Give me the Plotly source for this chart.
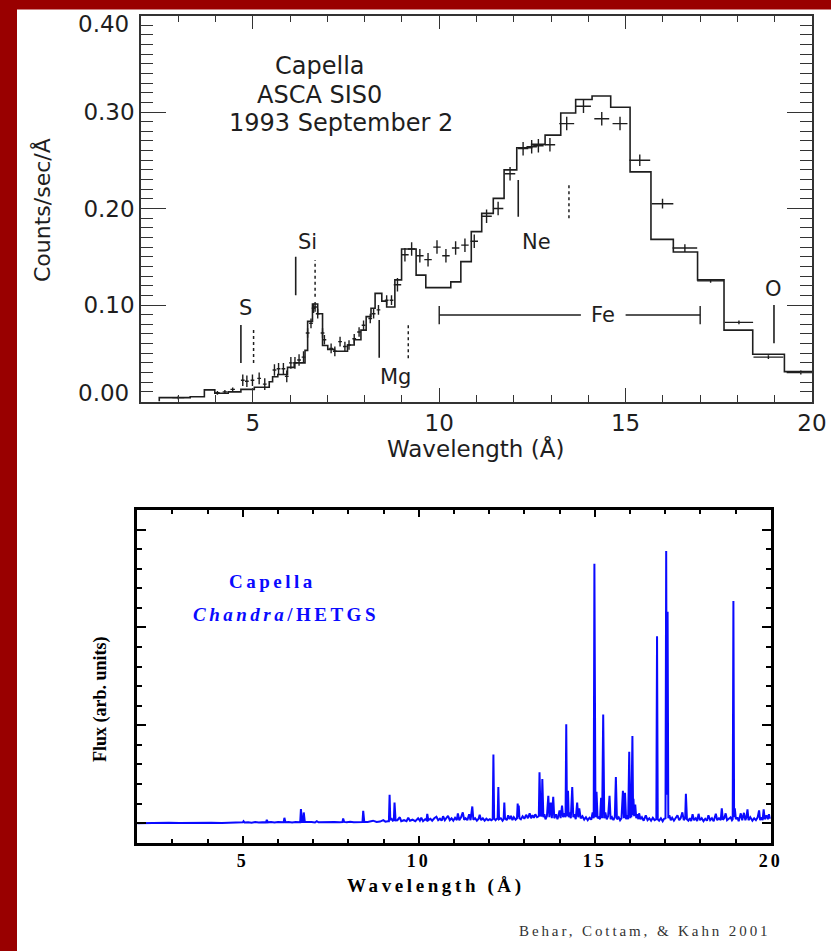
import plotly.graph_objects as go

W, H = 831, 951

# ---------------- Top panel: Capella ASCA SIS0 ----------------
asca_bin_edges = [2.49, 3.32, 3.70, 3.98, 4.34, 4.68, 5.04, 5.44, 5.53, 5.67,
                  5.93, 6.11, 6.40, 6.47, 6.60, 6.74, 6.87, 7.01, 7.19, 7.54,
                  7.72, 7.90, 8.04, 8.17, 8.28, 8.46, 8.59, 8.81, 8.99, 9.38,
                  9.64, 10.31, 10.58, 10.86, 11.14, 11.45, 11.74, 12.08, 12.48, 12.84,
                  13.26, 13.66, 14.10, 14.60, 15.12, 15.68, 16.28, 16.93, 17.64, 18.41,
                  19.26, 20.0]
asca_model = [0.004, 0.005, 0.012, 0.0085, 0.010, 0.0126, 0.0147, 0.0205, 0.0257, 0.028,
              0.0354, 0.040, 0.053, 0.083, 0.101, 0.091, 0.058, 0.054, 0.052, 0.0585,
              0.064, 0.074, 0.088, 0.0966, 0.112, 0.104, 0.098, 0.126, 0.158, 0.131,
              0.118, 0.124, 0.145, 0.176, 0.195, 0.2105, 0.240, 0.263, 0.2665, 0.276,
              0.299, 0.313, 0.3166, 0.305, 0.238, 0.168, 0.155, 0.126, 0.074, 0.049,
              0.031]

asca_wl = [3.0, 4.05, 4.25, 4.46, 4.73, 4.84, 4.99, 5.17, 5.32, 5.58,
           5.69, 5.82, 5.91, 6.02, 6.13, 6.24, 6.36, 6.47, 6.56, 6.63,
           6.67, 6.74, 6.87, 6.92, 7.10, 7.20, 7.34, 7.47, 7.58, 7.72,
           7.85, 7.97, 8.15, 8.24, 8.37, 8.59, 8.72, 8.88, 9.08, 9.26,
           9.48, 9.70, 9.94, 10.18, 10.44, 10.69, 10.94, 11.27, 11.58, 11.90,
           12.25, 12.48, 12.66, 12.97, 13.42, 13.87, 14.36, 14.85, 15.38, 15.99,
           16.59, 17.28, 18.04, 18.83, 19.70]
asca_rate = [0.004, 0.009, 0.010, 0.0126, 0.022, 0.021, 0.022, 0.024, 0.018, 0.0326,
             0.034, 0.034, 0.026, 0.040, 0.040, 0.043, 0.046, 0.071, 0.081, 0.0966,
             0.098, 0.091, 0.071, 0.064, 0.055, 0.052, 0.062, 0.057, 0.0585, 0.065,
             0.072, 0.079, 0.086, 0.091, 0.095, 0.105, 0.105, 0.121, 0.152, 0.158,
             0.151, 0.147, 0.160, 0.151, 0.159, 0.162, 0.166, 0.192, 0.200, 0.236,
             0.262, 0.264, 0.265, 0.266, 0.288, 0.306, 0.293, 0.288, 0.250, 0.205,
             0.159, 0.125, 0.082, 0.046, 0.030]
asca_wl_err = [0.16, 0.06, 0.06, 0.06, 0.05, 0.05, 0.05, 0.05, 0.05, 0.05,
               0.05, 0.05, 0.05, 0.05, 0.05, 0.05, 0.05, 0.05, 0.05, 0.05,
               0.05, 0.05, 0.05, 0.05, 0.05, 0.05, 0.05, 0.05, 0.05, 0.05,
               0.05, 0.05, 0.05, 0.05, 0.05, 0.05, 0.05, 0.10, 0.10, 0.10,
               0.10, 0.10, 0.10, 0.10, 0.10, 0.10, 0.10, 0.14, 0.14, 0.14,
               0.14, 0.14, 0.14, 0.14, 0.20, 0.20, 0.20, 0.20, 0.28, 0.29,
               0.33, 0.36, 0.38, 0.40, 0.38]
asca_rate_err = [0.002, 0.002, 0.002, 0.002, 0.006, 0.006, 0.006, 0.006, 0.006, 0.006,
                 0.006, 0.006, 0.006, 0.006, 0.006, 0.006, 0.006, 0.005, 0.005, 0.005,
                 0.005, 0.005, 0.005, 0.005, 0.005, 0.005, 0.005, 0.005, 0.005, 0.005,
                 0.005, 0.005, 0.005, 0.005, 0.005, 0.005, 0.005, 0.007, 0.007, 0.007,
                 0.007, 0.007, 0.007, 0.007, 0.007, 0.007, 0.007, 0.007, 0.007, 0.007,
                 0.007, 0.007, 0.007, 0.007, 0.007, 0.007, 0.007, 0.007, 0.006, 0.005,
                 0.004, 0.002, 0.002, 0.002, 0.002]
rate_ticks = [0.1, 0.2, 0.3]
rate_tick_text = ["0.10", "0.20", "0.30"]
rate_end_text = ["0.00", "0.40"]

ion_labels = ["S", "Si", "Mg", "Ne", "Fe", "O"]
ion_label_wl = [4.80, 6.47, 8.84, 12.60, 14.39, 18.96]
ion_label_rate = [0.0966, 0.1656, 0.0257, 0.1656, 0.0896, 0.117]
solid_mark_wl = [4.68, 6.15, 8.39, 12.12, 18.98]
solid_mark_lo = [0.040, 0.110, 0.0454, 0.1915, 0.0603]
solid_mark_hi = [0.0793, 0.150, 0.0845, 0.2295, 0.100]
dotted_mark_wl = [5.02, 6.67, 9.17, 13.48]
dotted_mark_lo = [0.040, 0.1086, 0.0448, 0.190]
dotted_mark_hi = [0.076, 0.1466, 0.081, 0.226]
fe_band = [10.0, 17.0]
fe_gap = [13.8, 15.0]
fe_level = 0.0896
fe_cap = [0.080, 0.099]

# ---------------- Bottom panel: Capella Chandra/HETGS ----------------
hetgs = [
    (2.0, 0.0), (2.3, 0.003), (2.6, 0.0), (2.9, 0.004), (3.2, 0.001), (3.5, 0.004),
    (3.8, 0.0), (4.1, 0.005), (4.4, 0.002), (4.7, 0.006), (4.85, 0.004), (5.0, 0.008),
    (5.02, 0.02), (5.05, 0.006), (5.15, 0.01), (5.25, 0.005), (5.35, 0.011), (5.45, 0.006),
    (5.55, 0.01), (5.66, 0.008), (5.68, 0.034), (5.71, 0.008), (5.8, 0.012), (5.9, 0.006),
    (6.0, 0.012), (6.1, 0.009), (6.16, 0.01), (6.18, 0.054), (6.21, 0.01), (6.3, 0.012),
    (6.4, 0.007), (6.5, 0.012), (6.6, 0.01), (6.63, 0.01), (6.65, 0.143), (6.68, 0.012),
    (6.71, 0.012), (6.73, 0.109), (6.76, 0.012), (6.85, 0.008), (6.95, 0.011), (7.05, 0.007),
    (7.1, 0.02), (7.15, 0.008), (7.3, 0.011), (7.45, 0.007), (7.6, 0.012), (7.75, 0.008),
    (7.83, 0.01), (7.85, 0.048), (7.88, 0.012), (7.95, 0.008), (8.05, 0.013), (8.15, 0.008),
    (8.25, 0.012), (8.35, 0.009), (8.40, 0.012), (8.42, 0.126), (8.45, 0.014), (8.55, 0.012),
    (8.7, 0.025), (8.8, 0.012), (8.9, 0.016), (8.99, 0.03), (9.05, 0.015), (9.12, 0.02),
    (9.15, 0.02), (9.17, 0.29), (9.19, 0.03), (9.22, 0.05), (9.26, 0.025), (9.29, 0.03),
    (9.31, 0.21), (9.34, 0.028), (9.39, 0.03), (9.46, 0.06), (9.5, 0.02), (9.58, 0.03),
    (9.65, 0.02), (9.7, 0.055), (9.75, 0.025), (9.82, 0.035), (9.9, 0.02), (9.98, 0.05),
    (10.03, 0.025), (10.07, 0.055), (10.12, 0.02), (10.18, 0.04), (10.22, 0.03), (10.24, 0.095),
    (10.27, 0.03), (10.33, 0.045), (10.38, 0.025), (10.44, 0.05), (10.5, 0.065), (10.55, 0.03),
    (10.6, 0.045), (10.65, 0.025), (10.69, 0.07), (10.74, 0.03), (10.78, 0.05), (10.83, 0.075),
    (10.88, 0.03), (10.93, 0.05), (10.98, 0.025), (11.03, 0.055), (11.08, 0.03), (11.11, 0.10),
    (11.15, 0.03), (11.2, 0.06), (11.25, 0.11), (11.29, 0.035), (11.33, 0.05), (11.38, 0.03),
    (11.43, 0.09), (11.47, 0.03), (11.52, 0.17), (11.55, 0.035), (11.6, 0.05), (11.65, 0.025),
    (11.7, 0.045), (11.73, 0.085), (11.77, 0.03), (11.82, 0.05), (11.87, 0.025), (11.92, 0.045),
    (11.97, 0.03), (12.02, 0.04), (12.06, 0.03), (12.10, 0.04), (12.12, 0.70), (12.14, 0.05),
    (12.18, 0.03), (12.22, 0.045), (12.24, 0.04), (12.26, 0.37), (12.28, 0.04), (12.33, 0.05),
    (12.38, 0.025), (12.41, 0.04), (12.43, 0.21), (12.45, 0.05), (12.5, 0.03), (12.54, 0.08),
    (12.58, 0.04), (12.62, 0.075), (12.66, 0.03), (12.7, 0.06), (12.75, 0.035), (12.79, 0.05),
    (12.81, 0.20), (12.83, 0.06), (12.84, 0.18), (12.86, 0.05), (12.9, 0.04), (12.95, 0.07),
    (13.0, 0.045), (13.05, 0.085), (13.1, 0.05), (13.15, 0.10), (13.19, 0.05), (13.23, 0.08),
    (13.27, 0.055), (13.31, 0.09), (13.36, 0.06), (13.41, 0.07), (13.43, 0.52), (13.46, 0.08),
    (13.49, 0.07), (13.51, 0.45), (13.54, 0.06), (13.57, 0.09), (13.6, 0.04), (13.64, 0.07),
    (13.68, 0.28), (13.71, 0.06), (13.75, 0.21), (13.78, 0.05), (13.82, 0.27), (13.85, 0.05),
    (13.9, 0.09), (13.94, 0.04), (13.97, 0.08), (14.0, 0.13), (14.03, 0.05), (14.07, 0.18),
    (14.1, 0.06), (14.13, 0.10), (14.17, 0.06), (14.19, 1.01), (14.21, 0.07), (14.24, 0.33),
    (14.26, 0.06), (14.29, 0.11), (14.32, 0.05), (14.36, 0.37), (14.39, 0.06), (14.42, 0.09),
    (14.46, 0.04), (14.50, 0.21), (14.53, 0.06), (14.56, 0.15), (14.6, 0.05), (14.65, 0.07),
    (14.7, 0.035), (14.75, 0.06), (14.8, 0.03), (14.85, 0.055), (14.9, 0.035), (14.94, 0.11),
    (14.97, 0.05), (14.99, 2.65), (15.02, 0.06), (15.05, 0.32), (15.08, 0.05), (15.12, 0.06),
    (15.15, 0.04), (15.18, 0.26), (15.21, 0.05), (15.24, 1.11), (15.27, 0.05), (15.30, 0.11),
    (15.34, 0.04), (15.38, 0.07), (15.42, 0.28), (15.45, 0.04), (15.49, 0.06), (15.53, 0.03),
    (15.57, 0.06), (15.60, 0.47), (15.63, 0.04), (15.68, 0.06), (15.72, 0.03), (15.76, 0.05),
    (15.80, 0.33), (15.83, 0.05), (15.86, 0.31), (15.89, 0.04), (15.92, 0.08), (15.95, 0.04),
    (15.98, 0.73), (16.01, 0.05), (16.02, 0.16), (16.04, 0.06), (16.07, 0.89), (16.09, 0.08),
    (16.10, 0.25), (16.12, 0.07), (16.15, 0.19), (16.18, 0.05), (16.21, 0.09), (16.24, 0.04),
    (16.26, 0.10), (16.3, 0.04), (16.34, 0.06), (16.39, 0.025), (16.45, 0.08), (16.5, 0.03),
    (16.55, 0.05), (16.6, 0.025), (16.65, 0.055), (16.7, 0.03), (16.75, 0.04), (16.77, 1.91),
    (16.79, 0.04), (16.83, 0.025), (16.88, 0.05), (16.93, 0.02), (16.97, 0.045), (17.01, 0.05),
    (17.03, 2.78), (17.05, 0.29), (17.07, 2.16), (17.09, 0.05), (17.12, 0.08), (17.16, 0.03),
    (17.2, 0.055), (17.25, 0.025), (17.3, 0.05), (17.35, 0.08), (17.4, 0.03), (17.44, 0.05),
    (17.49, 0.11), (17.53, 0.03), (17.57, 0.05), (17.59, 0.30), (17.62, 0.04), (17.66, 0.025),
    (17.7, 0.05), (17.74, 0.02), (17.78, 0.09), (17.82, 0.03), (17.87, 0.05), (17.91, 0.02),
    (17.95, 0.095), (17.99, 0.03), (18.04, 0.05), (18.09, 0.02), (18.14, 0.045), (18.19, 0.025),
    (18.23, 0.08), (18.28, 0.03), (18.33, 0.05), (18.38, 0.02), (18.44, 0.095), (18.48, 0.03),
    (18.53, 0.05), (18.58, 0.03), (18.61, 0.15), (18.64, 0.035), (18.68, 0.05), (18.72, 0.10),
    (18.76, 0.03), (18.81, 0.045), (18.86, 0.06), (18.9, 0.03), (18.92, 0.04), (18.94, 2.27),
    (18.96, 0.06), (18.98, 0.15), (19.01, 0.04), (19.05, 0.06), (19.09, 0.02), (19.15, 0.10),
    (19.19, 0.03), (19.24, 0.105), (19.28, 0.03), (19.31, 0.06), (19.34, 0.14), (19.37, 0.03),
    (19.42, 0.06), (19.48, 0.025), (19.53, 0.05), (19.58, 0.03), (19.63, 0.06), (19.67, 0.13),
    (19.7, 0.03), (19.74, 0.06), (19.77, 0.03), (19.80, 0.14), (19.83, 0.04), (19.88, 0.08),
    (19.92, 0.04), (19.95, 0.09), (19.98, 0.05), (20.0, 0.06),
]
hetgs_wl = [p[0] for p in hetgs]
hetgs_flux = [p[1] for p in hetgs]
wave_ticks = [5, 10, 15, 20]


def px(x, y):
    return x / W, 1 - y / H


TOP_FONT = "DejaVu Sans"
BOT_FONT = "Liberation Serif"
INK = "#1e1e1e"
BLUE = "#0a0aff"

fig = go.Figure()

fig.add_trace(go.Scatter(
    x=[asca_bin_edges[0]] + asca_bin_edges,
    y=[0] + asca_model + [asca_model[-1]],
    mode="lines", line=dict(shape="hv", color=INK, width=1.6),
    xaxis="x", yaxis="y", showlegend=False, hoverinfo="skip"))

fig.add_trace(go.Scatter(
    x=asca_wl, y=asca_rate, mode="markers",
    marker=dict(size=1, color=INK),
    error_x=dict(type="data", array=asca_wl_err, width=0, thickness=1.4, color=INK),
    error_y=dict(type="data", array=asca_rate_err, width=0, thickness=1.4, color=INK),
    xaxis="x", yaxis="y", showlegend=False))

sx, sy = [], []
for w, lo, hi in zip(solid_mark_wl, solid_mark_lo, solid_mark_hi):
    sx += [w, w, None]
    sy += [lo, hi, None]
fig.add_trace(go.Scatter(x=sx, y=sy, mode="lines", line=dict(color=INK, width=1.6),
                         xaxis="x", yaxis="y", showlegend=False, hoverinfo="skip"))
dx, dy = [], []
for w, lo, hi in zip(dotted_mark_wl, dotted_mark_lo, dotted_mark_hi):
    dx += [w, w, None]
    dy += [lo, hi, None]
fig.add_trace(go.Scatter(x=dx, y=dy, mode="lines", line=dict(color=INK, width=1.5, dash="dot"),
                         xaxis="x", yaxis="y", showlegend=False, hoverinfo="skip"))
fig.add_trace(go.Scatter(
    x=[fe_band[0], fe_band[0], None, fe_band[0], fe_gap[0], None, fe_gap[1], fe_band[1], None,
       fe_band[1], fe_band[1]],
    y=[fe_cap[0], fe_cap[1], None, fe_level, fe_level, None, fe_level, fe_level, None,
       fe_cap[0], fe_cap[1]],
    mode="lines", line=dict(color=INK, width=1.4),
    xaxis="x", yaxis="y", showlegend=False, hoverinfo="skip"))

fig.add_trace(go.Scatter(x=hetgs_wl, y=hetgs_flux, mode="lines",
                         line=dict(color=BLUE, width=2.0),
                         xaxis="x2", yaxis="y2", showlegend=False, hoverinfo="skip"))

annotations = []


def note(text, x, y, xref, yref, font, **kw):
    d = dict(x=x, y=y, xref=xref, yref=yref, text=text, showarrow=False,
             xanchor="center", yanchor="middle", font=font)
    d.update(kw)
    annotations.append(d)


for t, w, r in zip(ion_labels, ion_label_wl, ion_label_rate):
    note(t, w, r, "x", "y", dict(family=TOP_FONT, size=21, color=INK))
for t, w, r in [("Capella", 6.80, 0.348), ("ASCA SIS0", 6.79, 0.318),
                ("1993 September 2", 7.36, 0.289)]:
    note(t, w, r, "x", "y", dict(family=TOP_FONT, size=24, color=INK))

for t, yp in zip(rate_end_text, [393, 24]):
    x, y = px(131, yp)
    note(t, x, y, "paper", "paper", dict(family=TOP_FONT, size=23, color=INK), xanchor="right")

x, y = px(42, 210)
note("Counts/sec/Å", x, y, "paper", "paper", dict(family=TOP_FONT, size=22, color=INK),
     textangle=-90)
x, y = px(476, 449)
note("Wavelength (Å)", x, y, "paper", "paper", dict(family=TOP_FONT, size=23, color=INK))

note("<span style='letter-spacing:3.5px'>Capella</span>", 5.85, 2.47, "x2", "y2",
     dict(family=BOT_FONT, size=19, color=BLUE, weight="bold"))
note("<span style='letter-spacing:3.5px'><i>Chandra</i>/HETGS</span>", 6.23, 2.13, "x2", "y2",
     dict(family=BOT_FONT, size=19, color=BLUE, weight="bold"))
x, y = px(100, 699)
note("Flux (arb. units)", x, y, "paper", "paper",
     dict(family=BOT_FONT, size=18, color="black", weight="bold"), textangle=-90)
x, y = px(436, 886)
note("<span style='letter-spacing:3.6px'>Wavelength (Å)</span>", x, y, "paper", "paper",
     dict(family=BOT_FONT, size=19, color="black", weight="bold"))
x, y = px(644, 931)
note("<span style='letter-spacing:2.9px'>Behar, Cottam, &amp; Kahn 2001</span>", x, y,
     "paper", "paper", dict(family=BOT_FONT, size=15, color="#333333"))

shapes = [
    dict(type="rect", xref="paper", yref="paper", x0=0, x1=17 / W, y0=0, y1=1,
         fillcolor="#990000", line=dict(width=0), layer="above"),
    dict(type="rect", xref="paper", yref="paper", x0=0, x1=1, y0=1 - 9.5 / H, y1=1,
         fillcolor="#990000", line=dict(width=0), layer="above"),
]

top_axis_common = dict(showline=True, mirror="ticks", linecolor="#333333", linewidth=1.5,
                       ticks="inside", tickcolor="#333333", tickwidth=1.4,
                       showgrid=False, zeroline=False, automargin=False)
fig.update_layout(
    width=W, height=H, autosize=False,
    margin=dict(l=0, r=0, t=0, b=0, autoexpand=False),
    paper_bgcolor="white", plot_bgcolor="white",
    xaxis=dict(domain=[141 / W, 812 / W], anchor="y", range=[2, 20],
               tick0=0, dtick=5, ticklen=14,
               minor=dict(dtick=1, tick0=0, ticklen=7, ticks="inside",
                          tickcolor="#333333", tickwidth=1.2),
               tickfont=dict(family=TOP_FONT, size=23, color=INK),
               **top_axis_common),
    yaxis=dict(domain=[1 - 401.5 / H, 1 - 15.5 / H], anchor="x", range=[0, 0.40],
               tickvals=[0.0] + rate_ticks + [0.4], ticktext=[""] + rate_tick_text + [""],
               ticklen=25,
               minor=dict(dtick=0.01, tick0=0, ticklen=12, ticks="inside",
                          tickcolor="#333333", tickwidth=1.2),
               tickfont=dict(family=TOP_FONT, size=23, color=INK),
               **top_axis_common),
    xaxis2=dict(domain=[137.3 / W, 770.7 / W], anchor="y2", range=[2, 20],
                tickvals=wave_ticks,
                ticktext=["<span style='letter-spacing:3px'>%d</span>" % v for v in wave_ticks],
                ticks="inside", ticklen=7, tickwidth=2, tickcolor="black",
                minor=dict(dtick=1, tick0=0, ticklen=4, ticks="inside",
                           tickcolor="black", tickwidth=2),
                showline=True, mirror="ticks", linecolor="black", linewidth=2.5,
                tickfont=dict(family=BOT_FONT, size=18, color="black", weight="bold"),
                showgrid=False, zeroline=False, automargin=False),
    yaxis2=dict(domain=[1 - 842.7 / H, 1 - 510 / H], anchor="x2", range=[-0.2, 3.2],
                tick0=0, dtick=1, showticklabels=False,
                ticks="inside", ticklen=9, tickwidth=2, tickcolor="black",
                minor=dict(dtick=0.2, tick0=0, ticklen=5, ticks="inside",
                           tickcolor="black", tickwidth=2),
                showline=True, mirror="ticks", linecolor="black", linewidth=2.5,
                showgrid=False, zeroline=False, automargin=False),
    annotations=annotations,
    shapes=shapes,
)

fig.write_html("out.html",
               config={"displayModeBar": False, "responsive": False},
               post_script="document.body.style.margin='0';document.body.style.overflow='hidden';")
